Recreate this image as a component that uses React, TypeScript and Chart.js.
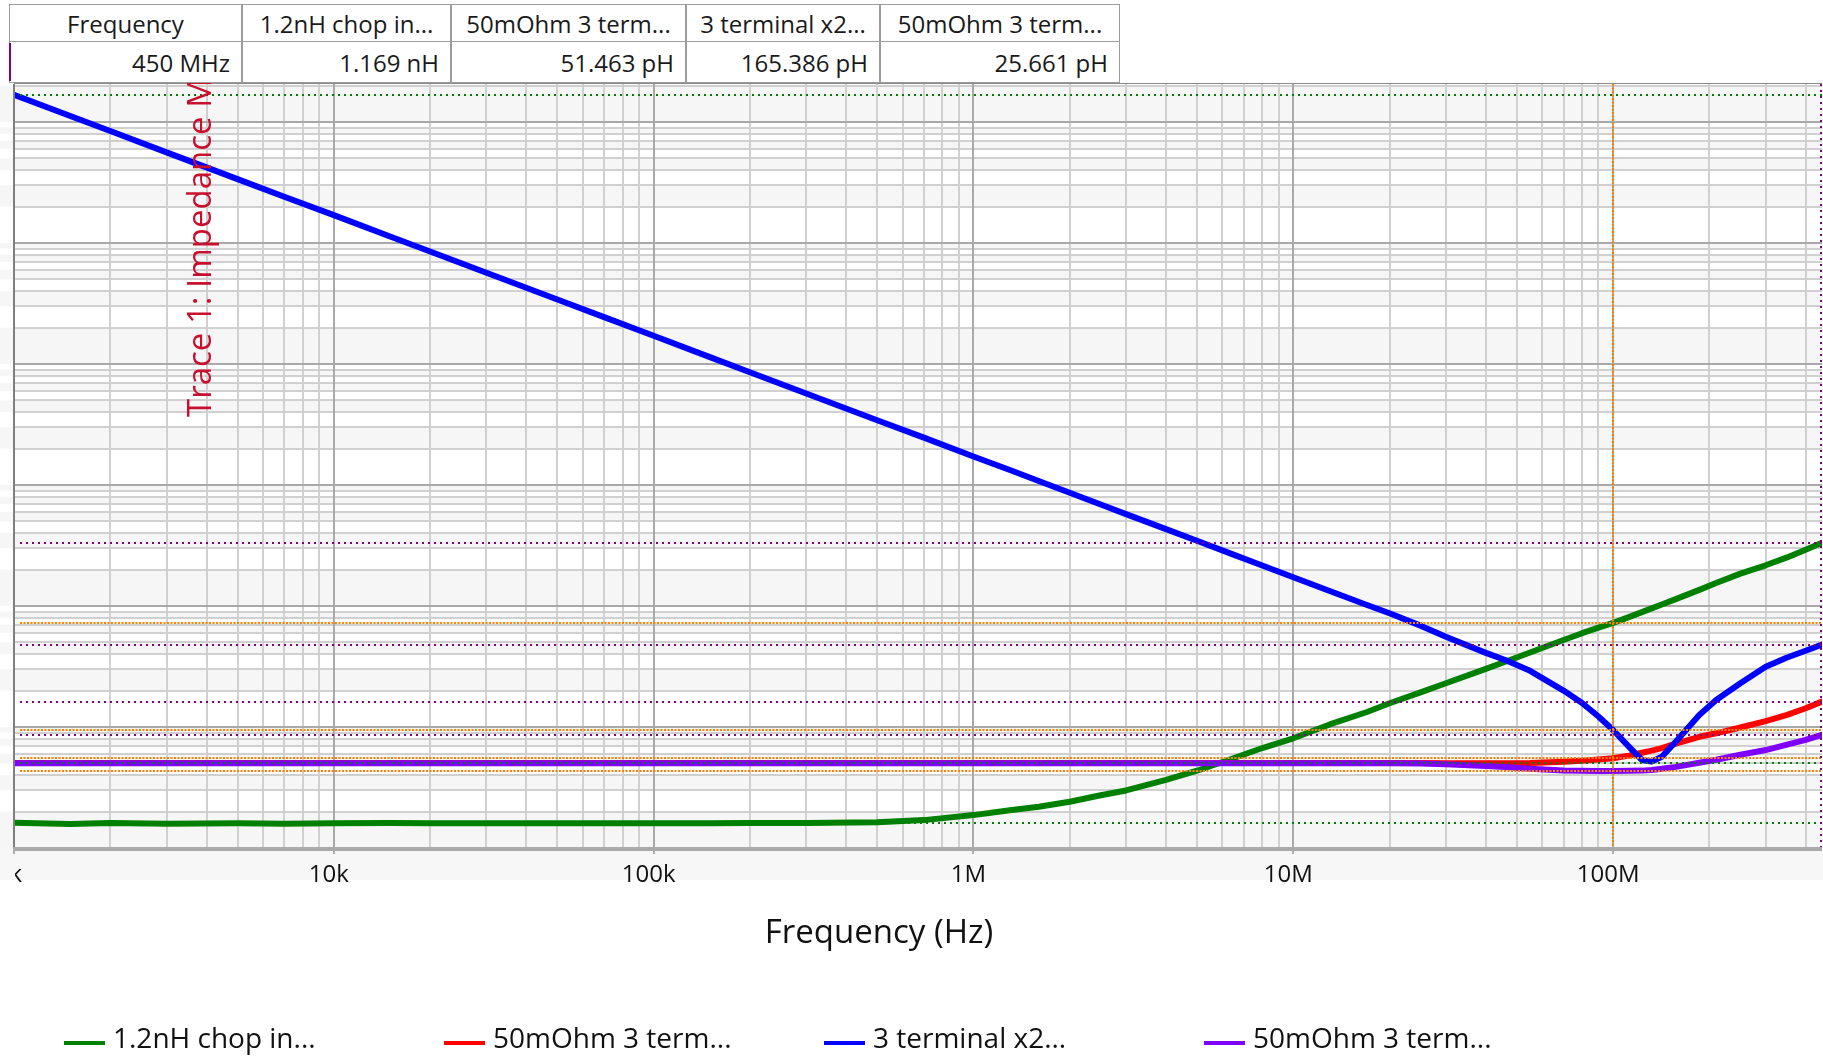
import { useEffect, useRef } from "react";
import { Chart, registerables } from "chart.js";

Chart.register(...registerables);

// Sweep frequencies (Hz) shared by all four traces
const FREQ_HZ = [
  1e3, 1.5e3, 2e3, 3e3, 5e3, 7e3, 1e4, 1.5e4, 2e4, 3e4, 5e4, 7e4, 1e5, 1.5e5, 2e5, 3e5, 5e5, 7e5,
  1e6, 1.3e6, 1.6e6, 2e6, 2.5e6, 3e6, 4e6, 5e6, 6.5e6, 8e6, 1e7, 1.3e7, 1.7e7, 2e7, 2.5e7, 3e7,
  4e7, 4.6e7, 5.5e7, 7e7, 8e7, 9e7, 1e8, 1.12e8, 1.23e8, 1.32e8, 1.42e8, 1.57e8, 1.86e8, 2.1e8,
  2.5e8, 3e8, 3.5e8, 4e8, 4.5e8,
];

// Impedance magnitude (ohm) per trace
const Z_CHOP_INDUCTOR = [
  0.0162, 0.0158, 0.0161, 0.0159, 0.016, 0.0159, 0.016, 0.0161, 0.016, 0.016, 0.016, 0.016, 0.016,
  0.016, 0.0161, 0.0161, 0.0163, 0.017, 0.0187, 0.0205, 0.0219, 0.0241, 0.0273, 0.0299, 0.0365,
  0.0435, 0.0552, 0.067, 0.0807, 0.105, 0.133, 0.157, 0.193, 0.23, 0.302, 0.346, 0.413, 0.523,
  0.596, 0.662, 0.725, 0.81, 0.89, 0.955, 1.03, 1.14, 1.36, 1.55, 1.85, 2.17, 2.52, 2.92, 3.33,
];
const Z_50MOHM_A = [
  0.0505, 0.0505, 0.0505, 0.0505, 0.0505, 0.0505, 0.0505, 0.0505, 0.0505, 0.0505, 0.0505, 0.0505,
  0.0505, 0.0505, 0.0505, 0.0505, 0.0505, 0.0505, 0.0505, 0.0505, 0.0505, 0.0505, 0.0505, 0.0505,
  0.0505, 0.0505, 0.0505, 0.0505, 0.0505, 0.0505, 0.0505, 0.0504, 0.0503, 0.0502, 0.0501, 0.0501,
  0.0503, 0.0516, 0.0527, 0.0539, 0.0551, 0.058, 0.0612, 0.0638, 0.0668, 0.0728, 0.083, 0.0887,
  0.099, 0.112, 0.126, 0.143, 0.162,
];
const Z_3TERM_X2 = [
  16800, 11200, 8420, 5610, 3370, 2410, 1700, 1130, 850, 567, 341, 244, 171, 114, 85.5, 57.0, 34.3,
  24.6, 17.2, 13.3, 10.8, 8.62, 6.9, 5.75, 4.32, 3.46, 2.66, 2.16, 1.73, 1.33, 1.02, 0.87, 0.688,
  0.557, 0.41, 0.358, 0.291, 0.2, 0.158, 0.122, 0.0944, 0.0689, 0.0534, 0.0517, 0.0568, 0.0756,
  0.1257, 0.167, 0.23, 0.3145, 0.375, 0.427, 0.48,
];
const Z_50MOHM_B = [
  0.0502, 0.0502, 0.0502, 0.0502, 0.0502, 0.0502, 0.0502, 0.0502, 0.0502, 0.0502, 0.0502, 0.0502,
  0.0502, 0.0502, 0.0502, 0.0502, 0.0502, 0.0502, 0.0502, 0.0502, 0.0502, 0.0502, 0.0502, 0.0502,
  0.0502, 0.0502, 0.0502, 0.0502, 0.0502, 0.0502, 0.0502, 0.0501, 0.0499, 0.0493, 0.0476, 0.0468,
  0.0452, 0.0436, 0.0434, 0.0433, 0.0433, 0.0434, 0.0436, 0.0442, 0.0451, 0.0468, 0.0507, 0.0536,
  0.059, 0.0645, 0.0716, 0.0782, 0.0859,
];

const SERIES_LABELS = ["1.2nH chop in...", "50mOhm 3 term...", "3 terminal x2...", "50mOhm 3 term..."];
const SERIES_VALUES = [Z_CHOP_INDUCTOR, Z_50MOHM_A, Z_3TERM_X2, Z_50MOHM_B];
const SERIES_COLORS = ["#008000", "#ff0000", "#0000ff", "#8000ff"];
const SERIES_ORDER = [3, 2, 0, 1];

// Cursor readout table
const TABLE_HEADERS = ["Frequency", ...SERIES_LABELS];
const TABLE_READOUT = ["450 MHz", "1.169 nH", "51.463 pH", "165.386 pH", "25.661 pH"];

const X_TICK_VALUES = [1e3, 1e4, 1e5, 1e6, 1e7, 1e8];
const X_TICK_LABELS = ["1k", "10k", "100k", "1M", "10M", "100M"];

// Cursors: frequency and colour
const CURSOR_FREQS = [1e3, 1e8, 4.5e8];
const CURSOR_COLORS = ["#008000", "#ff8000", "#800080"];
const CURSOR_DASHES = [[2, 4], [2, 1.5], [2, 4]];

const X_MIN = 1e3;
const X_MAX = 4.5e8;
const Y_MIN = 0.01;
const Y_MAX = 2.06e4;

const W = 1823;
const H = 1058;
const FONT = '"Open Sans", "Noto Sans", sans-serif';

function logLines(minV: number, maxV: number) {
  const out: { v: number; major: boolean }[] = [];
  const e0 = Math.floor(Math.log10(minV));
  const e1 = Math.ceil(Math.log10(maxV));
  for (let e = e0; e <= e1; e++) {
    for (let s = 1; s <= 9; s++) {
      const v = s * Math.pow(10, e);
      if (v >= minV * 0.999 && v <= maxV * 1.001) out.push({ v, major: s === 1 });
    }
  }
  return out;
}

const framePlugin = {
  id: "bodeFrame",
  beforeDatasetsDraw(chart: any) {
    const { ctx, chartArea: a, scales } = chart;
    const x = scales.x;
    const y = scales.y;
    ctx.save();
    ctx.fillStyle = "#ffffff";
    ctx.fillRect(0, 0, W, H);

    const hl = logLines(Y_MIN, Y_MAX);
    const vl = logLines(X_MIN, X_MAX);

    // faint horizontal banding
    const ys = [a.top, ...hl.map((l) => y.getPixelForValue(l.v)), a.bottom].sort((p: number, q: number) => p - q);
    ctx.fillStyle = "#f6f6f6";
    for (let i = 0; i < ys.length - 1; i++) {
      if (i % 2 === 1) ctx.fillRect(0, ys[i], W, ys[i + 1] - ys[i]);
    }
    // tick-label band
    ctx.fillStyle = "#f7f7f7";
    ctx.fillRect(0, a.bottom, W, 32);

    ctx.beginPath();
    ctx.rect(a.left, a.top, a.right - a.left + 2, a.bottom - a.top);
    ctx.clip();
    ctx.lineWidth = 2;
    for (const pass of [false, true]) {
      ctx.strokeStyle = pass ? "#a9a9a9" : "#d0d0d0";
      ctx.beginPath();
      for (const l of hl) {
        if (l.major !== pass) continue;
        const py = Math.round(y.getPixelForValue(l.v));
        ctx.moveTo(a.left, py);
        ctx.lineTo(a.right, py);
      }
      for (const l of vl) {
        if (l.major !== pass) continue;
        const px = Math.round(x.getPixelForValue(l.v));
        ctx.moveTo(px, a.top);
        ctx.lineTo(px, a.bottom);
      }
      ctx.stroke();
    }
    ctx.restore();
  },
  afterDatasetsDraw(chart: any) {
    const { ctx, chartArea: a, scales } = chart;
    const x = scales.x;
    const y = scales.y;
    ctx.save();

    // cursor markers: vertical line at each cursor frequency and the trace levels there
    ctx.save();
    ctx.beginPath();
    ctx.rect(a.left, a.top, a.right - a.left + 2, a.bottom - a.top);
    ctx.clip();
    ctx.lineWidth = 2;
    CURSOR_FREQS.forEach((f, ci) => {
      const idx = FREQ_HZ.indexOf(f);
      ctx.strokeStyle = CURSOR_COLORS[ci];
      ctx.setLineDash(CURSOR_DASHES[ci]);
      ctx.beginPath();
      SERIES_VALUES.forEach((vals) => {
        const py = Math.round(y.getPixelForValue(vals[idx]));
        ctx.moveTo(a.left + 6, py);
        ctx.lineTo(a.right, py);
      });
      const px = Math.min(Math.round(x.getPixelForValue(f)), a.right - 1);
      ctx.moveTo(px, a.top);
      ctx.lineTo(px, a.bottom);
      ctx.stroke();
    });
    ctx.restore();

    // frame
    ctx.fillStyle = "#8a8a8a";
    ctx.fillRect(a.left, a.top - 1, a.right - a.left, 1);
    ctx.fillStyle = "#7f7f7f";
    ctx.fillRect(a.left - 1, a.top, 2, a.bottom - a.top);
    ctx.fillStyle = "#aaaaaa";
    ctx.fillRect(a.left - 1, a.bottom - 1, W - a.left, 4);
    for (const v of X_TICK_VALUES) {
      const px = Math.round(x.getPixelForValue(v));
      ctx.fillRect(px - 1, a.bottom, 2, 6);
    }

    // x tick labels
    ctx.save();
    ctx.beginPath();
    ctx.rect(a.left + 1, a.bottom, W, 60);
    ctx.clip();
    ctx.fillStyle = "#111111";
    ctx.font = `24px ${FONT}`;
    ctx.textAlign = "center";
    ctx.textBaseline = "alphabetic";
    X_TICK_VALUES.forEach((v, i) => {
      ctx.fillText(X_TICK_LABELS[i], x.getPixelForValue(v) - 5, 882);
    });
    ctx.restore();

    // axis titles
    ctx.fillStyle = "#111111";
    ctx.font = `33px ${FONT}`;
    ctx.textAlign = "center";
    ctx.fillText("Frequency (Hz)", 879, 943);

    ctx.save();
    ctx.beginPath();
    ctx.rect(0, 83, W, H);
    ctx.clip();
    ctx.translate(211, 417);
    ctx.rotate(-Math.PI / 2);
    ctx.fillStyle = "#c8102e";
    ctx.textAlign = "left";
    ctx.fillText("Trace 1: Impedance Magnitude (\u03a9)", 0, 0);
    ctx.restore();

    // legend
    const legendX = [64, 444, 824, 1204];
    ctx.font = `28px ${FONT}`;
    ctx.textAlign = "left";
    SERIES_LABELS.forEach((label, i) => {
      ctx.fillStyle = SERIES_COLORS[i];
      ctx.fillRect(legendX[i], 1041, 41, 4);
      ctx.fillStyle = "#111111";
      ctx.fillText(label, legendX[i] + 49, 1048);
    });

    ctx.restore();
  },
};

const COL_EDGES = [9, 242, 451, 686, 880, 1120];

function ReadoutTable() {
  const cells: any[] = [];
  for (let c = 0; c < 5; c++) {
    const left = COL_EDGES[c];
    const width = COL_EDGES[c + 1] - left;
    cells.push(
      <div
        key={"h" + c}
        style={{
          position: "absolute",
          left,
          top: 4,
          width,
          height: 38,
          boxSizing: "border-box",
          border: "1px solid #9c9c9c",
          background: "#ffffff",
          display: "flex",
          alignItems: "center",
          justifyContent: "center",
          font: `24px ${FONT}`,
          color: "#1a1a1a",
          whiteSpace: "nowrap",
        }}
      >
        {TABLE_HEADERS[c]}
      </div>
    );
    cells.push(
      <div
        key={"v" + c}
        style={{
          position: "absolute",
          left,
          top: 41,
          width,
          height: 42,
          boxSizing: "border-box",
          border: "1px solid #9c9c9c",
          background: "#ffffff",
          display: "flex",
          alignItems: "center",
          justifyContent: "flex-end",
          paddingRight: 11,
          font: `24px ${FONT}`,
          color: "#1a1a1a",
          whiteSpace: "nowrap",
        }}
      >
        {TABLE_READOUT[c]}
      </div>
    );
  }
  return (
    <>
      {cells}
      <div style={{ position: "absolute", left: 9, top: 43, width: 2, height: 38, background: "#800080" }} />
    </>
  );
}

export default function App() {
  const canvasRef = useRef<HTMLCanvasElement | null>(null);

  useEffect(() => {
    document.body.style.overflow = "hidden";
    const canvas = canvasRef.current;
    if (!canvas) return;
    const chart = new Chart(canvas, {
      type: "line",
      data: {
        datasets: SERIES_VALUES.map((vals, i) => ({
          label: SERIES_LABELS[i],
          data: FREQ_HZ.map((f, j) => ({ x: f, y: vals[j] })),
          borderColor: SERIES_COLORS[i],
          backgroundColor: SERIES_COLORS[i],
          borderWidth: 6,
          pointRadius: 0,
          tension: 0,
          fill: false,
          order: SERIES_ORDER[i],
          borderJoinStyle: "round" as const,
          borderCapStyle: "round" as const,
        })),
      },
      options: {
        responsive: false,
        animation: false,
        devicePixelRatio: 1,
        layout: { padding: { left: 14, top: 84, right: 1, bottom: H - 848 } },
        scales: {
          x: { type: "logarithmic", min: X_MIN, max: X_MAX, display: false },
          y: { type: "logarithmic", min: Y_MIN, max: Y_MAX, display: false },
        },
        plugins: { legend: { display: false }, tooltip: { enabled: false } },
      },
      plugins: [framePlugin],
    });
    return () => chart.destroy();
  }, []);

  return (
    <div style={{ position: "absolute", left: 0, top: 0, width: W, height: H, background: "#ffffff", overflow: "hidden" }}>
      <canvas ref={canvasRef} width={W} height={H} style={{ position: "absolute", left: 0, top: 0 }} />
      <ReadoutTable />
    </div>
  );
}
